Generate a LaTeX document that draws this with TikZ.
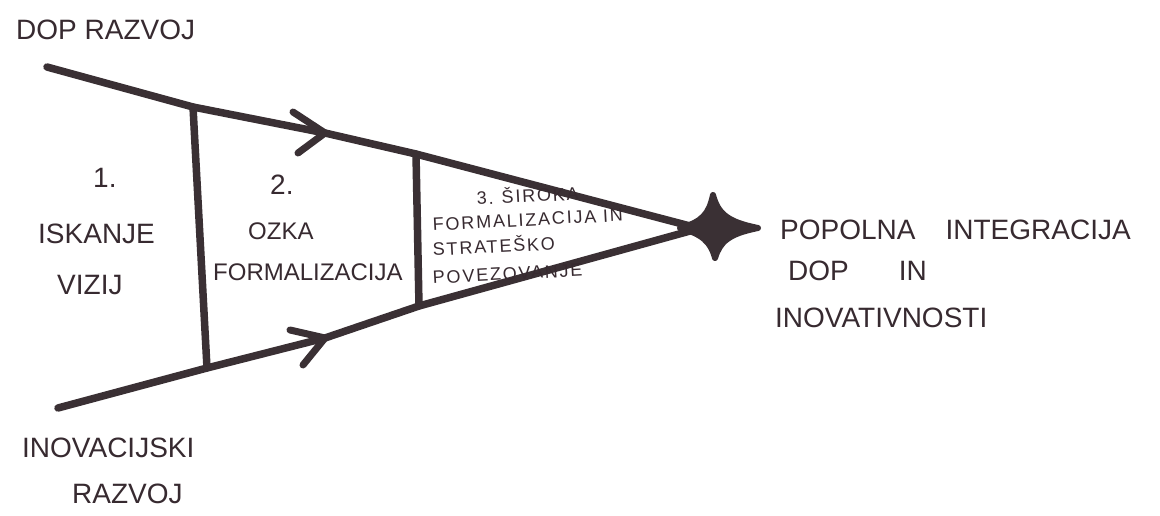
\documentclass[tikz,border=0pt]{standalone}
\usepackage{fontspec}
\setmainfont{Liberation Sans}
\newfontfamily\handwide[LetterSpace=10]{Liberation Sans}
\definecolor{ink}{RGB}{58,48,52}
\definecolor{pen}{RGB}{55,42,48}
\begin{document}
\begin{tikzpicture}[x=1pt,y=-1pt,
  stroke/.style={draw=ink,line width=7.5pt,line cap=round,line join=round},
  chevron/.style={draw=ink,line width=7pt,line cap=round,line join=round},
  hand/.style={text=pen,inner sep=0pt,anchor=base west},
  big/.style={font=\fontsize{28}{30}\selectfont},
  mid/.style={font=\fontsize{24}{26}\selectfont},
  tiny/.style={font=\handwide\fontsize{18}{20}\selectfont,rotate=3}]
\useasboundingbox (0,0) rectangle (1160,516);
\fill[white] (0,0) rectangle (1160,516);

% key points of the funnel
\coordinate (ts) at (47,67);
\coordinate (t1) at (193,107);
\coordinate (ta) at (325,133);
\coordinate (t2) at (416,154);
\coordinate (te) at (690,226);
\coordinate (bs) at (58,408);
\coordinate (b1) at (207,368);
\coordinate (ba) at (325,338);
\coordinate (b2) at (419,306);
\coordinate (be) at (690,231);
\coordinate (tu) at (293,112);
\coordinate (tl) at (298,153);
\coordinate (bu) at (290,330);
\coordinate (bl) at (303,365);

% funnel lines
\draw[stroke] (ts) -- (t1) -- (ta) -- (t2) -- (te);
\draw[stroke] (bs) -- (b1) -- (ba) -- (b2) -- (be);
% stage separators
\draw[stroke] (t1) -- (b1);
\draw[stroke] (t2) -- (b2);
% arrow chevrons
\draw[chevron] (tu) -- (ta) -- (tl);
\draw[chevron] (bu) -- (ba) -- (bl);

% four-point star
\coordinate (star) at (716,228);
\filldraw[ink,line width=6pt,line join=round]
  (713,195) .. controls (718,214) and (728,222) .. (758,228)
  .. controls (728,234) and (720,242) .. (715,258)
  .. controls (711,242) and (702,234) .. (680,228)
  .. controls (702,222) and (709,214) .. (713,195) -- cycle;

% labels
\node[hand,big] (dop) at (16,40) {DOP RAZVOJ};
\node[hand,big] (n1) at (93,187) {1.};
\node[hand,big] (isk) at (38,243) {ISKANJE};
\node[hand,big] (viz) at (57,294) {VIZIJ};
\node[hand,big] (n2) at (270,195) {2.};
\node[hand,mid] (ozka) at (248,240) {OZKA};
\node[hand,mid] (form) at (213,280) {FORMALIZACIJA};

\node[hand,tiny] (s3a) at (477,205) {3.\hspace{8pt}ŠIROKA};
\node[hand,tiny] (s3b) at (433,231) {FORMALIZACIJA IN};
\node[hand,tiny] (s3c) at (433,256) {STRATEŠKO};
\node[hand,tiny] (s3d) at (433,284) {POVEZOVANJE};

\node[hand,big] (pop) at (780,240) {POPOLNA\hspace{30pt}INTEGRACIJA};
\node[hand,big] (dopin) at (788,280) {DOP\hspace{50pt}IN};
\node[hand,big] (inov) at (775,327) {INOVATIVNOSTI};

\node[hand,big] (ino) at (22,457) {INOVACIJSKI};
\node[hand,big] (raz) at (72,503) {RAZVOJ};
\end{tikzpicture}
\end{document}
